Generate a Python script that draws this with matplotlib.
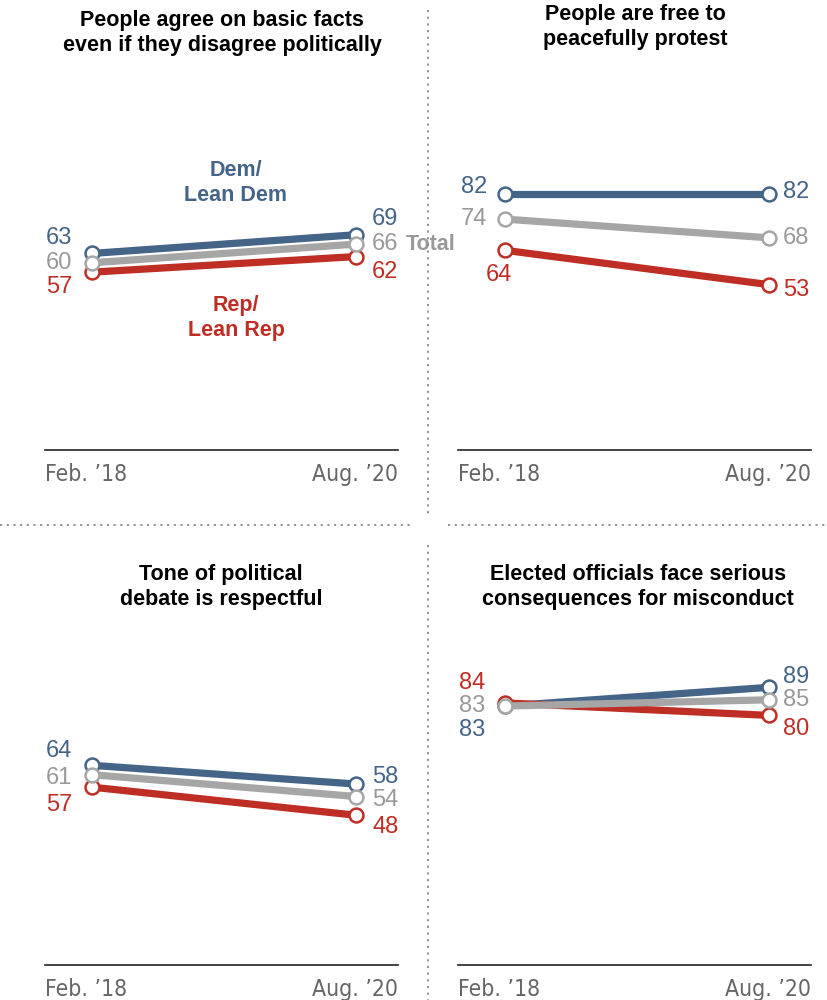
import matplotlib.pyplot as plt
from matplotlib import font_manager

# values for each panel: [Feb. '18, Aug. '20]
titles = [
    "People agree on basic facts\neven if they disagree politically",
    "People are free to\npeacefully protest",
    "Tone of political\ndebate is respectful",
    "Elected officials face serious\nconsequences for misconduct",
]
dem = [[63, 69], [82, 82], [64, 58], [83, 89]]
rep = [[57, 62], [64, 53], [57, 48], [84, 80]]
total = [[60, 66], [74, 68], [61, 54], [83, 85]]
xlabels = ["Feb. \u201918", "Aug. \u201920"]

DEM_C = "#446587"
REP_C = "#bf2e24"
TOT_C = "#a6a6a6"
TOT_TXT = "#999999"

# pick a narrow face for the axis labels if one is installed
fonts = font_manager.fontManager.ttflist
names = {f.name for f in fonts}
tick_font = dict(family="DejaVu Sans")
if "Liberation Sans Narrow" in names:
    tick_font = dict(family="Liberation Sans Narrow")
elif any(f.name == "DejaVu Sans" and f.stretch == "condensed" for f in fonts):
    tick_font = dict(family="DejaVu Sans", stretch="condensed")

plt.rcParams["font.family"] = ["Liberation Sans", "DejaVu Sans"]

W, H = 828, 1000
fig = plt.figure(figsize=(W / 100, H / 100), dpi=100)

def px_axes(left, base, width=353, height=312):
    # left/base given in pixels from top-left corner
    return fig.add_axes([left / W, (H - base) / H, width / W, height / H])

# (axes left px, baseline px, title centre x px, title centre y px)
layout = [(45, 450, 222, 33), (458, 450, 635, 27), (45, 965, 221, 587), (458, 965, 638, 587)]

# label offsets in pixels (dx, dy, ha) for left and right ends
offsets = [
    {"dem": [(-20, 15, "right"), (16, 16, "left")],
     "tot": [(-20, 0, "right"), (16, 0, "left")],
     "rep": [(-20, -15, "right"), (16, -15, "left")]},
    {"dem": [(-18, 7, "right"), (14, 2, "left")],
     "tot": [(-18, 0, "right"), (14, 0, "left")],
     "rep": [(-6, -25, "center"), (14, -5, "left")]},
    {"dem": [(-20, 14, "right"), (16, 7, "left")],
     "tot": [(-20, -3, "right"), (16, -3, "left")],
     "rep": [(-20, -18, "right"), (16, -12, "left")]},
    {"dem": [(-20, -24, "right"), (14, 10, "left")],
     "tot": [(-20, 0, "right"), (14, 0, "left")],
     "rep": [(-20, 20, "right"), (14, -14, "left")]},
]

for i, (left, base, tx, ty) in enumerate(layout):
    ax = px_axes(left, base)
    ax.set_xlim(-0.178, 1.159)
    ax.set_ylim(0, 100)
    ax.axis("off")
    ax.axhline(0, color="#222222", lw=1.2, clip_on=False)

    series = [("dem", dem[i], DEM_C, DEM_C), ("rep", rep[i], REP_C, REP_C),
              ("tot", total[i], TOT_C, TOT_TXT)]
    for key, vals, col, tcol in series:
        ax.plot([0, 1], vals, color=col, lw=5.2, solid_capstyle="butt", zorder=2,
                marker="o", ms=10, mfc="white", mec=col, mew=1.8, clip_on=False)
        for j in range(2):
            dx, dy, ha = offsets[i][key][j]
            ax.annotate(str(vals[j]), (j, vals[j]), xytext=(dx, dy),
                        textcoords="offset pixels", ha=ha, va="center",
                        fontsize=17, color=tcol)

    ax.text(0, -0.08, xlabels[0], transform=ax.transAxes, ha="left", va="center",
            fontsize=16.5, color="#666666", **tick_font)
    ax.text(1, -0.08, xlabels[1], transform=ax.transAxes, ha="right", va="center",
            fontsize=16.5, color="#666666", **tick_font)

    fig.text(tx / W, 1 - ty / H, titles[i], ha="center", va="center",
             fontsize=15.5, fontweight="bold", color="black", linespacing=1.28)

    if i == 0:
        ax.annotate("Dem/\nLean Dem", (0.55, 69), xytext=(236, H - 183),
                    textcoords="figure pixels", xycoords="data",
                    ha="center", va="center", fontsize=15.5, fontweight="bold",
                    color=DEM_C, linespacing=1.28)
        ax.annotate("Rep/\nLean Rep", (0.55, 57), xytext=(236, H - 318),
                    textcoords="figure pixels", xycoords="data",
                    ha="center", va="center", fontsize=15.5, fontweight="bold",
                    color=REP_C, linespacing=1.28)
        ax.annotate("Total", (1, total[i][1]), xytext=(50, 0),
                    textcoords="offset pixels", ha="left", va="center",
                    fontsize=15.5, fontweight="bold", color=TOT_TXT)

# dotted separators between panels
sep = dict(color="#8a8a8a", lw=1.3, linestyle=(0, (1.2, 2.5)))
fig.add_artist(plt.Line2D([428 / W, 428 / W], [1 - 10 / H, 1 - 515 / H], **sep))
fig.add_artist(plt.Line2D([428 / W, 428 / W], [1 - 545 / H, 0], **sep))
fig.add_artist(plt.Line2D([0, 410 / W], [1 - 525 / H, 1 - 525 / H], **sep))
fig.add_artist(plt.Line2D([448 / W, 1], [1 - 525 / H, 1 - 525 / H], **sep))

fig.savefig("out.png", dpi=100, facecolor="white")
